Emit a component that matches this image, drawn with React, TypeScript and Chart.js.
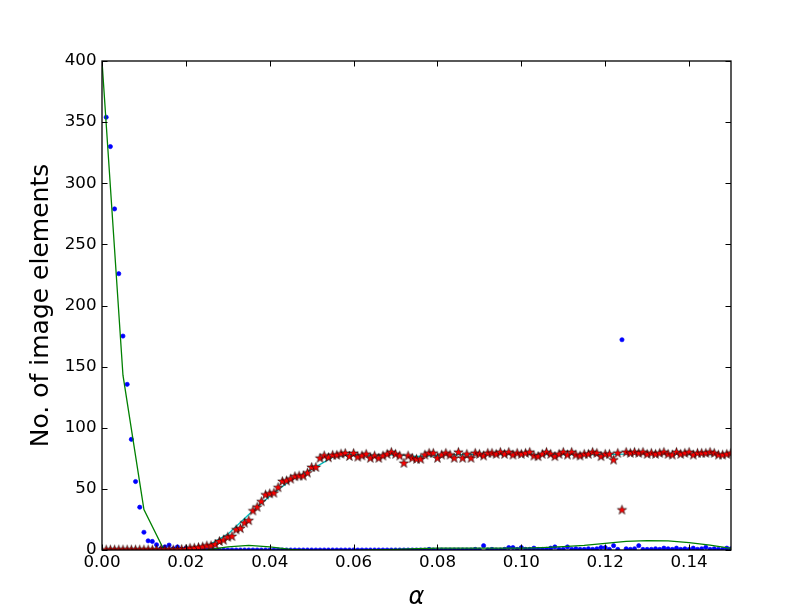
import React, { useEffect, useRef } from "react";
import { Chart, registerables } from "chart.js";

Chart.register(...registerables);

// alpha grid of the scatter series: 0.001 ... 0.150 (step 0.001)
const ALPHA_START = 0.001;
const ALPHA_STEP = 0.001;
// alpha grid of the fitted curves: 0.000 ... 0.150 (step 0.005)
const FIT_START = 0;
const FIT_STEP = 0.005;

// blue dots
const blueCounts = [
  354, 330, 279, 226, 175, 135.5, 90.5, 56, 35, 14.5,
  7.5, 7, 4.3, 1, 2.5, 4, 1, 2.5, 0.5, 1.4,
  0.5, 0, 0.5, 0, 0, 0, 0, 0, 0, 0,
  0, 0, 0, 0, 0, 0, 0, 0, 0, 0,
  0, 0, 0, 0, 0, 0, 0, 0, 0, 0,
  0, 0, 0, 0, 0, 0, 0, 0, 0, 0,
  0, 0, 0, 0, 0, 0, 0, 0, 0, 0,
  0, 0, 0, 0, 0, 0, 0, 0.5, 0, 0,
  0, 0, 0, 0, 0, 0, 0, 0, 0.5, 0,
  3.5, 0, 0.5, 0, 0, 0.5, 2, 2, 0.5, 2,
  0.5, 0.5, 1.5, 0.5, 0.5, 0.5, 1.5, 2.5, 0.5, 0.5,
  2.5, 0.5, 1, 0.5, 0.5, 1, 0.5, 1, 2, 2,
  0.5, 3.5, 0.5, 172, 1, 0.5, 1, 3.5, 0.5, 0.5,
  0.5, 1, 0.5, 1.5, 1, 0.5, 1.5, 0.5, 1, 0.5,
  1.5, 0.5, 1, 2.2, 0.5, 1, 0.5, 0.5, 1.5, 1,
];

// red stars
const redCounts = [
  0, 0, 0, 0, 0, 0, 0, 0, 0, 0,
  0, 0, 0, 0, 0, 0, 0, 0, 0.5, 0.5,
  1.4, 1.5, 2, 2.5, 3.3, 3.4, 4.5, 7, 8, 10.5,
  11, 16.5, 17.5, 22, 24, 32, 35, 39.5, 45, 46,
  46.5, 51, 56, 56.5, 58, 60, 60.5, 60.5, 63, 67.5,
  67.5, 75, 77, 75.5, 77.5, 77.5, 78.5, 79, 76.5, 79,
  76, 77, 78.3, 75, 76.9, 75, 76.9, 78.3, 79.9, 78.3,
  76.9, 70.9, 76.9, 75, 74.2, 74.2, 77.7, 79.1, 79.1, 75,
  77.7, 79.1, 77.7, 75, 79.9, 75, 78.3, 75, 79.1, 78.3,
  76.9, 79.1, 79.1, 78.3, 79.9, 78.3, 79.9, 77.7, 79.1, 78.3,
  79.1, 79.9, 76.9, 76.4, 78.3, 79.9, 78.3, 76.4, 78.3, 79.9,
  77.7, 79.9, 77.7, 76.9, 78.3, 78.3, 79.9, 79.1, 76.4, 78.3,
  78.3, 73.6, 79.1, 32.7, 79.9, 79.1, 79.9, 79.1, 79.9, 78.3,
  79.1, 78.3, 79.1, 79.9, 78.3, 77.7, 79.9, 78.3, 79.1, 79.9,
  77.7, 79.1, 79.1, 79.1, 79.9, 79.1, 77.7, 77.7, 78.3, 79.1,
];

// green fitted curve (through blue dots)
const greenFit = [
  400, 143, 33, -1.5, -2, 0, 2.5, 3.8, 2.5, 0.5,
  -0.5, -1, -0.5, 0, 0.5, 1.2, 1.5, 1.5, 1.5, 1.5,
  1.5, 2, 2.8, 3.8, 5.5, 7, 7.6, 7.5, 6, 4, 1.4,
];

// cyan fitted curve (through red stars)
const cyanFit = [
  0, 0, 0.5, 1, 0.5, 3, 13, 29, 44, 57,
  66, 76, 78, 77.5, 78, 76.5, 77.5, 78, 78, 78,
  78.5, 78, 78, 78, 78, 78.5, 78.5, 78.5, 78, 78, 78,
];

const X_MIN = 0;
const X_MAX = 0.15;
const X_TICK_STEP = 0.02;
const Y_MIN = 0;
const Y_MAX = 400;
const Y_TICK_STEP = 50;

const Y_TITLE = "No. of image elements";
const X_TITLE = "α";

const toPoints = (vals: number[], start: number, step: number) =>
  vals.map((v, i) => ({ x: +(start + i * step).toFixed(4), y: v }));

function makeStar(outer: number, fill: string, stroke: string, lw: number) {
  const size = Math.ceil(2 * (outer + lw)) + 2;
  const c = document.createElement("canvas");
  c.width = size;
  c.height = size;
  const g = c.getContext("2d")!;
  const cx = size / 2;
  const cy = size / 2;
  const inner = outer * 0.381966;
  g.beginPath();
  for (let i = 0; i < 10; i++) {
    const r = i % 2 === 0 ? outer : inner;
    const a = -Math.PI / 2 + (i * Math.PI) / 5;
    const px = cx + r * Math.cos(a);
    const py = cy + r * Math.sin(a);
    if (i === 0) g.moveTo(px, py);
    else g.lineTo(px, py);
  }
  g.closePath();
  g.fillStyle = fill;
  g.fill();
  g.lineWidth = lw;
  g.strokeStyle = stroke;
  g.lineJoin = "miter";
  g.stroke();
  return c;
}

const framePlugin = {
  id: "mplFrame",
  afterDatasetsDraw(chart: any) {
    const { ctx, chartArea } = chart;
    const { left, right, top, bottom } = chartArea;
    const xs = chart.scales.x;
    const ys = chart.scales.y;
    const L = 5.5;
    ctx.save();
    ctx.strokeStyle = "#000";
    ctx.lineWidth = 1;
    ctx.beginPath();
    xs.ticks.forEach((t: any) => {
      const px = Math.round(xs.getPixelForValue(t.value)) + 0.5;
      ctx.moveTo(px, bottom);
      ctx.lineTo(px, bottom - L);
      ctx.moveTo(px, top);
      ctx.lineTo(px, top + L);
    });
    ys.ticks.forEach((t: any) => {
      const py = Math.round(ys.getPixelForValue(t.value)) + 0.5;
      ctx.moveTo(left, py);
      ctx.lineTo(left + L, py);
      ctx.moveTo(right, py);
      ctx.lineTo(right - L, py);
    });
    ctx.stroke();
    ctx.lineWidth = 1.3;
    ctx.strokeRect(left, top, right - left, bottom - top);
    ctx.restore();
  },
};

export default function App() {
  const ref = useRef<HTMLCanvasElement | null>(null);

  useEffect(() => {
    if (!ref.current) return;
    const star = makeStar(4.9, "#ff0000", "#000000", 0.6);
    const tickFont = { family: "DejaVu Sans", size: 16.7 };
    const chart = new Chart(ref.current, {
      type: "scatter",
      data: {
        datasets: [
          {
            label: "red",
            data: toPoints(redCounts, ALPHA_START, ALPHA_STEP),
            pointStyle: star as any,
            pointRadius: 4.9,
            showLine: false,
            clip: 0,
          } as any,
          {
            label: "cyan",
            data: toPoints(cyanFit, FIT_START, FIT_STEP),
            showLine: true,
            borderColor: "#00bfbf",
            borderWidth: 1.3,
            pointRadius: 0,
            tension: 0,
            clip: 0,
          },
          {
            label: "green",
            data: toPoints(greenFit, FIT_START, FIT_STEP),
            showLine: true,
            borderColor: "#008000",
            borderWidth: 1.3,
            pointRadius: 0,
            tension: 0,
            clip: 0,
          },
          {
            label: "blue",
            data: toPoints(blueCounts, ALPHA_START, ALPHA_STEP),
            showLine: false,
            pointRadius: 2.1,
            pointBorderWidth: 0.7,
            pointBackgroundColor: "#0000ff",
            pointBorderColor: "#0000ff",
            clip: 0,
          },
        ],
      },
      options: {
        responsive: false,
        animation: false,
        events: [],
        layout: { padding: { left: 0, top: 61, right: 81, bottom: 0 } },
        plugins: {
          legend: { display: false },
          tooltip: { enabled: false },
          title: { display: false },
        },
        scales: {
          x: {
            type: "linear",
            min: X_MIN,
            max: X_MAX,
            grid: { display: false, drawTicks: false },
            border: { display: false },
            ticks: {
              stepSize: X_TICK_STEP,
              includeBounds: false,
              padding: 3,
              color: "#000",
              font: tickFont,
              maxRotation: 0,
              callback: (v: any) => Number(v).toFixed(2),
            },
            title: {
              display: true,
              text: X_TITLE,
              color: "#000",
              font: { family: "DejaVu Sans", size: 24, style: "italic" },
              padding: { top: 0, bottom: 0 },
            },
            afterFit: (s: any) => {
              s.height = 62;
            },
          },
          y: {
            type: "linear",
            min: Y_MIN,
            max: Y_MAX,
            grid: { display: false, drawTicks: false },
            border: { display: false },
            ticks: {
              stepSize: Y_TICK_STEP,
              padding: 5.5,
              color: "#000",
              font: tickFont,
              callback: (v: any) => String(v),
            },
            title: {
              display: true,
              text: Y_TITLE,
              color: "#000",
              font: { family: "DejaVu Sans", size: 25 },
              padding: { top: 26, bottom: 0 },
            },
            afterFit: (s: any) => {
              s.width = 102;
            },
          },
        },
      },
      plugins: [framePlugin],
    });
    return () => chart.destroy();
  }, []);

  return (
    <div
      style={{
        position: "fixed",
        left: 0,
        top: 0,
        width: 812,
        height: 612,
        background: "#fff",
      }}
    >
      <canvas ref={ref} width={812} height={612} style={{ display: "block" }} />
    </div>
  );
}
